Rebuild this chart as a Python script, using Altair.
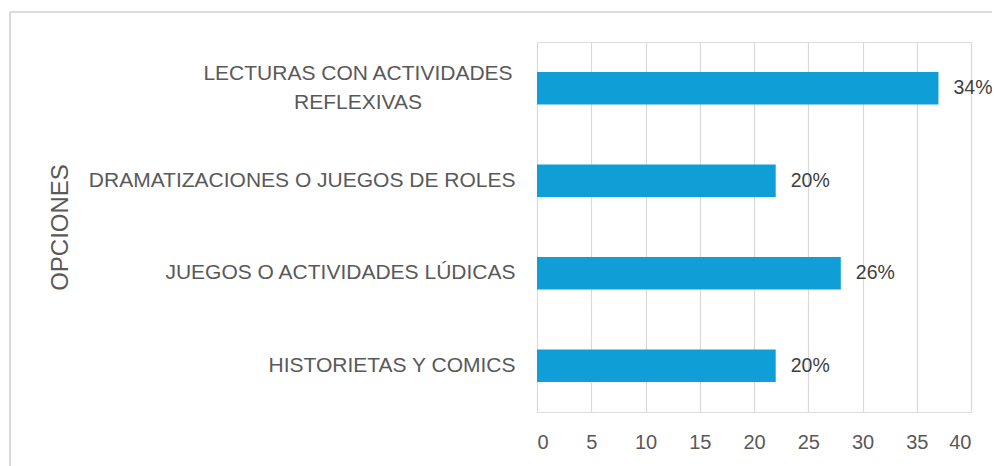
import altair as alt
import pandas as pd

categories = [
    "LECTURAS CON ACTIVIDADES\nREFLEXIVAS",
    "DRAMATIZACIONES O JUEGOS DE ROLES",
    "JUEGOS O ACTIVIDADES LÚDICAS",
    "HISTORIETAS Y COMICS",
]
values = [37, 22, 28, 22]
pct_labels = ["34%", "20%", "26%", "20%"]
x_ticks = [0, 5, 10, 15, 20, 25, 30, 35, 40]

df = pd.DataFrame({"cat": categories, "val": values, "pct": pct_labels})
FONT = "Liberation Sans"
LONG = categories[0]

y_enc = alt.Y(
    "cat:N",
    sort=categories,
    title="OPCIONES",
    scale=alt.Scale(paddingInner=0.65, paddingOuter=0.325),
    axis=alt.Axis(
        domain=False,
        ticks=False,
        labelFont=FONT,
        labelFontSize=21,
        labelColor="#595959",
        labelPadding=22,
        labelLimit=0,
        labelExpr="datum.value == '%s' ? '' : datum.value" % LONG.replace("\n", "\\n"),
        titleFont=FONT,
        titleFontSize=24,
        titleFontWeight="normal",
        titleColor="#595959",
        titleAngle=270,
        titleX=-477,
        titleY=185,
        titleAlign="center",
        titleBaseline="middle",
    ),
)

x_enc = alt.X(
    "val:Q",
    title=None,
    scale=alt.Scale(domain=[0, 40], nice=False),
    axis=alt.Axis(
        values=x_ticks,
        domain=False,
        ticks=False,
        grid=True,
        gridColor="#D9D9D9",
        gridWidth=1.2,
        labelFont=FONT,
        labelFontSize=20,
        labelColor="#595959",
        labelPadding=20,
    ),
)

base = alt.Chart(df)

bars = base.mark_bar(color="#0F9ED5").encode(x=x_enc, y=y_enc)

pct = base.mark_text(
    align="left", baseline="middle", dx=15, font=FONT, fontSize=19.5, color="#404040"
).encode(x="val:Q", y=alt.Y("cat:N", sort=categories), text="pct:N")

long_label = (
    alt.Chart(df[df["cat"] == LONG])
    .transform_calculate(lbl="split(datum.cat, '\\n')")
    .mark_text(
        align="center",
        baseline="middle",
        font=FONT,
        fontSize=21,
        color="#595959",
        lineHeight=29,
        dy=-14,
    )
    .encode(x=alt.value(-179), y=alt.Y("cat:N", sort=categories), text="lbl:N")
)

frame_left = base.mark_rule(color="#D9D9D9", strokeWidth=1.2).encode(
    x=alt.value(-527), y=alt.value(-30), y2=alt.value(430)
)
frame_top = base.mark_rule(color="#D9D9D9", strokeWidth=1.2).encode(
    x=alt.value(-527), x2=alt.value(470), y=alt.value(-30)
)

chart = (
    alt.layer(bars, pct, long_label, frame_left, frame_top)
    .properties(
        width=434,
        height=370,
        autosize=alt.AutoSizeParams(type="none"),
        padding={"left": 529, "top": 34, "right": 21, "bottom": 54},
    )
    .configure_view(stroke=None)
    .configure(background="white")
)

chart.save("out.html", embed_options={"renderer": "svg", "actions": False})
